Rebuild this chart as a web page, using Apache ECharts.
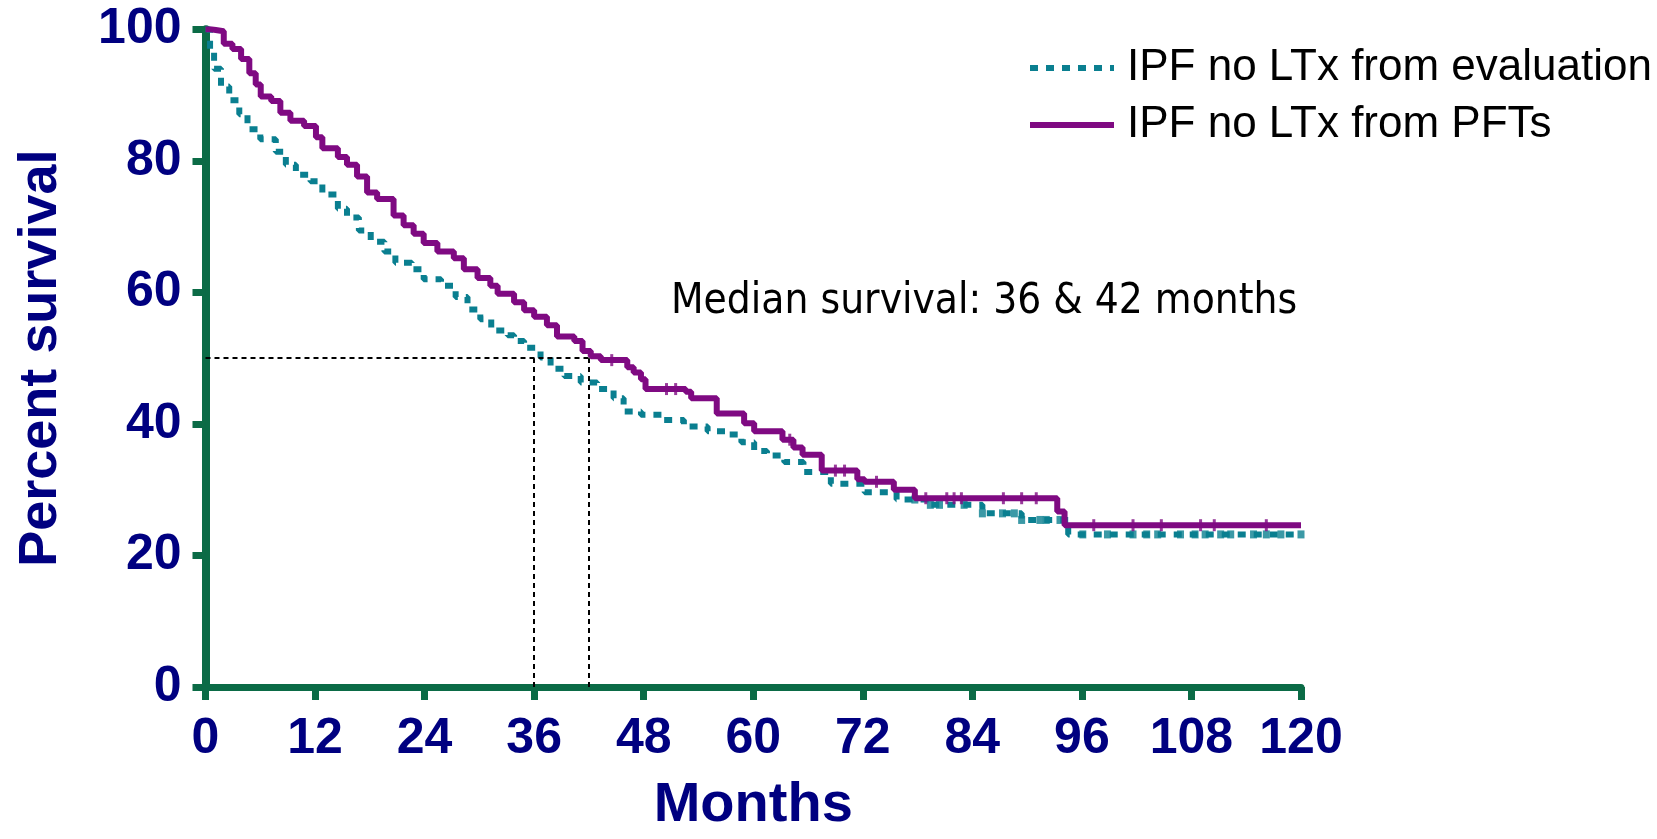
<!DOCTYPE html>
<html>
<head>
<meta charset="utf-8">
<title>IPF survival</title>
<script src="https://cdn.jsdelivr.net/npm/echarts@6/dist/echarts.min.js"></script>
<style>
  html, body { margin: 0; padding: 0; background: #ffffff; }
  #chart { width: 1657px; height: 839px; }
</style>
</head>
<body>
<div id="chart"></div>
<script>
// Kaplan-Meier survival of IPF patients without lung transplant (months, % surviving)
const seriesNames = ['IPF no LTx from evaluation', 'IPF no LTx from PFTs'];

const evalMonths = [0, 0.5, 0.94, 1.7, 2.6, 3.7, 4.6, 6.0, 7.7, 8.8, 9.9, 11.5, 12.8, 14.5, 15.5, 16.8,
  18.1, 19.6, 20.8, 22.6, 23.9, 25.8, 27.4, 28.7, 30.1, 31.3, 33.1, 33.8, 34.9, 36.4, 36.7, 37.8,
  39.3, 41.1, 42.9, 44.7, 45.8, 47.7, 50.2, 52.4, 55.0, 57.2, 58.7, 60.1, 61.5, 63.4, 65.5, 68.5,
  72.2, 75.7, 79.3, 85.1, 89.4, 94.5, 120];
const evalSurvival = [100, 96.8, 94.0, 91.3, 89.2, 87.1, 84.8, 83.3, 81.4, 79.4, 77.9, 76.9, 74.9, 72.7, 71.4, 69.4,
  67.7, 66.2, 64.5, 63.5, 62.0, 61.0, 59.3, 57.4, 55.9, 54.2, 53.5, 52.6, 51.6, 51.3, 50.1, 48.4,
  47.3, 46.3, 45.3, 43.9, 41.9, 41.4, 40.6, 39.6, 38.9, 38.4, 37.2, 35.9, 35.2, 34.2, 32.7, 30.9,
  29.6, 28.5, 27.7, 26.4, 25.4, 23.2, 23.2];
const evalCensored = [77.7, 79.4, 80.4, 83.1, 85.1, 87.3, 88.6, 89.4, 91.4, 92.1, 93.6,
  96.1, 98.8, 101.6, 103.1, 104.3, 106.8, 108.4, 109.5, 111.2, 112.3, 114.8, 116.2, 117.8, 120];

const pftMonths = [0, 0.6, 2.0, 2.95, 3.9, 4.8, 5.5, 6.05, 7.2, 8.2, 9.3, 10.8, 12.1, 12.8, 14.5, 15.5,
  16.6, 17.7, 18.8, 20.6, 21.7, 22.8, 23.9, 25.4, 27.2, 28.3, 29.8, 31.2, 32.0, 33.8, 34.9, 36.0,
  37.4, 38.5, 40.4, 41.3, 42.2, 43.3, 46.2, 46.9, 47.7, 48.2, 52.6, 53.2, 56.0, 59.0, 60.1, 63.2,
  64.4, 65.4, 67.5, 71.4, 72.2, 75.4, 77.7, 93.3, 94.1, 120];
const pftSurvival = [100, 99.7, 97.8, 97.0, 95.5, 93.3, 91.6, 89.8, 89.1, 87.3, 86.1, 85.3, 83.6, 81.9, 80.6, 79.4,
  77.6, 75.2, 74.2, 71.7, 70.2, 68.9, 67.5, 66.2, 65.2, 63.5, 62.2, 61.0, 59.8, 58.5, 57.3, 56.3,
  55.0, 53.3, 52.6, 51.1, 50.3, 49.7, 48.6, 47.8, 46.8, 45.3, 44.9, 43.9, 41.6, 40.1, 38.9, 37.6,
  36.4, 35.3, 32.9, 31.6, 31.2, 30.0, 28.7, 26.7, 24.6, 24.6];
const pftCensored = [44.5, 50.5, 51.5, 64.0, 69.0, 70.0, 73.5, 78.9, 81.2, 82.0, 82.8, 87.4, 89.4, 91.0,
  97.3, 101.6, 104.7, 109.0, 110.5, 116.2];

// Median survival (months) for each group, and the survival level they are read at
const medianMonths = [36, 42];
const medianLevel = 50;

const xTicks = [0, 12, 24, 36, 48, 60, 72, 84, 96, 108, 120];
const yTicks = [0, 20, 40, 60, 80, 100];

const TEAL = '#0A7F90';
const PURPLE = '#7F0A82';
const AXIS_GREEN = '#0B6B46';
const NAVY = '#000080';

function pairs(xs, ys) { return xs.map((x, i) => [x, ys[i]]); }
// survival estimate at time t from a right-continuous step function
function stepAt(xs, ys, t) {
  let v = ys[0];
  for (let i = 0; i < xs.length; i++) { if (xs[i] <= t) v = ys[i]; }
  return v;
}

const chart = echarts.init(document.getElementById('chart'), null, { renderer: 'canvas' });

const option = {
  backgroundColor: '#ffffff',
  animation: false,
  grid: { left: 205.5, right: 356, top: 29.3, bottom: 137, containLabel: false },
  legend: {
    orient: 'vertical',
    left: 1022,
    top: 41,
    itemWidth: 84,
    itemHeight: 8,
    itemGap: 13,
    data: seriesNames,
    itemStyle: { opacity: 0 },
    lineStyle: { width: 6 },
    textStyle: { fontFamily: 'Liberation Sans, Arial, sans-serif', fontSize: 44, color: '#000', padding: [0, 0, 0, 8] }
  },
  xAxis: {
    type: 'value',
    min: 0, max: 120, interval: 12,
    name: 'Months',
    nameLocation: 'middle',
    nameGap: 91,
    nameTextStyle: { fontFamily: 'Liberation Sans, Arial, sans-serif', fontWeight: 'bold', fontSize: 56, color: NAVY },
    axisLine: { lineStyle: { color: AXIS_GREEN, width: 7 } },
    axisTick: { length: 13, lineStyle: { color: AXIS_GREEN, width: 7 } },
    axisLabel: {
      margin: 27,
      fontFamily: 'Liberation Sans, Arial, sans-serif', fontWeight: 'bold', fontSize: 50, color: NAVY,
      customValues: xTicks
    },
    splitLine: { show: false }
  },
  yAxis: {
    type: 'value',
    min: 0, max: 100, interval: 20,
    name: 'Percent survival',
    nameLocation: 'middle',
    nameGap: 137,
    nameTextStyle: { fontFamily: 'Liberation Sans, Arial, sans-serif', fontWeight: 'bold', fontSize: 54, color: NAVY },
    axisLine: { show: true, lineStyle: { color: AXIS_GREEN, width: 8 } },
    axisTick: { show: true, length: 13, lineStyle: { color: AXIS_GREEN, width: 7 } },
    axisLabel: {
      margin: 24,
      fontFamily: 'Liberation Sans, Arial, sans-serif', fontWeight: 'bold', fontSize: 50, color: NAVY,
      customValues: yTicks
    },
    splitLine: { show: false }
  },
  graphic: [{
    type: 'text',
    left: 671,
    top: 281,
    style: {
      text: 'Median survival: ' + medianMonths[0] + ' & ' + medianMonths[1] + ' months',
      fontFamily: '"DejaVu Sans Condensed", "DejaVu Sans", sans-serif',
      fontSize: 42,
      fill: '#000'
    }
  }],
  series: [
    {
      name: seriesNames[0],
      type: 'line',
      step: 'end',
      data: pairs(evalMonths, evalSurvival),
      symbol: 'none',
      lineStyle: { color: TEAL, width: 6, type: [8, 8] },
      itemStyle: { color: TEAL },
      z: 3
    },
    {
      name: seriesNames[1],
      type: 'line',
      step: 'end',
      data: pairs(pftMonths, pftSurvival),
      symbol: 'none',
      lineStyle: { color: PURPLE, width: 6 },
      itemStyle: { color: PURPLE },
      z: 4,
      markLine: {
        silent: true,
        symbol: 'none',
        label: { show: false },
        lineStyle: { color: '#000', type: [5, 4], width: 2 },
        data: [
          [{ coord: [0, medianLevel] }, { coord: [medianMonths[1], medianLevel] }],
          [{ coord: [medianMonths[0], 0] }, { coord: [medianMonths[0], medianLevel] }],
          [{ coord: [medianMonths[1], 0] }, { coord: [medianMonths[1], medianLevel] }]
        ]
      }
    },
    {
      name: 'evalCensor',
      type: 'scatter',
      data: evalCensored.map(t => [t, stepAt(evalMonths, evalSurvival, t)]),
      symbol: 'rect',
      symbolSize: [7, 8],
      itemStyle: { color: TEAL },
      z: 3
    },
    {
      name: 'pftCensor',
      type: 'scatter',
      data: pftCensored.map(t => [t, stepAt(pftMonths, pftSurvival, t)]),
      symbol: 'rect',
      symbolSize: [3, 12],
      itemStyle: { color: PURPLE },
      z: 4
    }
  ]
};

chart.setOption(option);
</script>
</body>
</html>
